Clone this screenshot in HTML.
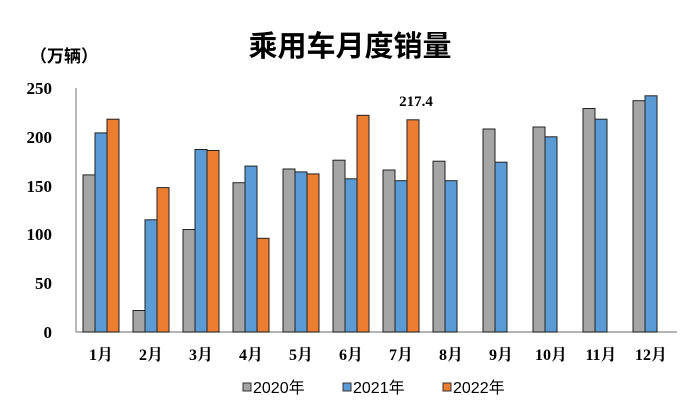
<!DOCTYPE html>
<html><head><meta charset="utf-8"><style>
body{margin:0;background:#fff;width:700px;height:418px;overflow:hidden}
svg{display:block}
</style></head><body>
<svg width="700" height="418" xmlns="http://www.w3.org/2000/svg">
<text x="350" y="56" text-anchor="middle" font-family="Liberation Sans,Noto Sans CJK SC,sans-serif" font-size="29" font-weight="bold" fill="#000">乘用车月度销量</text>
<text x="30" y="62" font-family="Liberation Sans,Noto Sans CJK SC,sans-serif" font-size="17" font-weight="bold" fill="#000">（万辆）</text>
<g font-family="Liberation Serif,Noto Serif CJK SC,serif" font-size="17" font-weight="bold" fill="#000" text-anchor="end">
<text x="52" y="94">250</text><text x="52" y="143">200</text><text x="52" y="192">150</text>
<text x="52" y="240">100</text><text x="52" y="289">50</text><text x="52" y="338">0</text>
</g>
<line x1="76" y1="88" x2="76" y2="332" stroke="#888" stroke-width="1.2"/>
<line x1="76" y1="332" x2="677" y2="332" stroke="#888" stroke-width="1.2"/>
<g stroke="#222" stroke-width="1">
<g fill="#a5a5a5">
<rect x="83" y="174.9" width="12" height="157.1"/>
<rect x="133" y="310.5" width="12" height="21.5"/>
<rect x="183" y="229.5" width="12" height="102.5"/>
<rect x="233" y="182.7" width="12" height="149.3"/>
<rect x="283" y="169" width="12" height="163"/>
<rect x="333" y="160.2" width="12" height="171.8"/>
<rect x="383" y="170" width="12" height="162"/>
<rect x="433" y="161.2" width="12" height="170.8"/>
<rect x="483" y="129" width="12" height="203"/>
<rect x="533" y="127" width="12" height="205"/>
<rect x="583" y="108.5" width="12" height="223.5"/>
<rect x="633" y="100.7" width="12" height="231.3"/>
</g>
<g fill="#5b9bd5">
<rect x="95" y="132.9" width="12" height="199.1"/>
<rect x="145" y="219.8" width="12" height="112.2"/>
<rect x="195" y="149.5" width="12" height="182.5"/>
<rect x="245" y="166.1" width="12" height="165.9"/>
<rect x="295" y="171.9" width="12" height="160.1"/>
<rect x="345" y="178.8" width="12" height="153.2"/>
<rect x="395" y="180.7" width="12" height="151.3"/>
<rect x="445" y="180.7" width="12" height="151.3"/>
<rect x="495" y="162.2" width="12" height="169.8"/>
<rect x="545" y="136.8" width="12" height="195.2"/>
<rect x="595" y="119.2" width="12" height="212.8"/>
<rect x="645" y="95.8" width="12" height="236.2"/>
</g>
<g fill="#ed7d31">
<rect x="107" y="119.2" width="12" height="212.8"/>
<rect x="157" y="187.6" width="12" height="144.4"/>
<rect x="207" y="150.5" width="12" height="181.5"/>
<rect x="257" y="238.3" width="12" height="93.7"/>
<rect x="307" y="173.9" width="12" height="158.1"/>
<rect x="357" y="115.3" width="12" height="216.7"/>
<rect x="407" y="119.8" width="12" height="212.2"/>
</g>
</g>
<text x="416" y="106" text-anchor="middle" font-family="Liberation Serif,serif" font-size="15" font-weight="bold">217.4</text>
<g font-family="Liberation Serif,Noto Serif CJK SC,serif" font-size="16" font-weight="bold" text-anchor="middle" fill="#000">
<text x="101" y="360">1月</text><text x="151" y="360">2月</text><text x="201" y="360">3月</text>
<text x="251" y="360">4月</text><text x="301" y="360">5月</text><text x="351" y="360">6月</text>
<text x="401" y="360">7月</text><text x="451" y="360">8月</text><text x="501" y="360">9月</text>
<text x="551" y="360">10月</text><text x="601" y="360">11月</text><text x="651" y="360">12月</text>
</g>
<g font-family="Liberation Sans,Noto Sans CJK SC,sans-serif" font-size="16" fill="#000">
<rect x="243" y="383" width="8" height="8" fill="#a5a5a5" stroke="#333"/><text x="253" y="393">2020年</text>
<rect x="343" y="383" width="8" height="8" fill="#5b9bd5" stroke="#333"/><text x="353" y="393">2021年</text>
<rect x="443" y="383" width="8" height="8" fill="#ed7d31" stroke="#333"/><text x="453" y="393">2022年</text>
</g>
</svg>
</body></html>
